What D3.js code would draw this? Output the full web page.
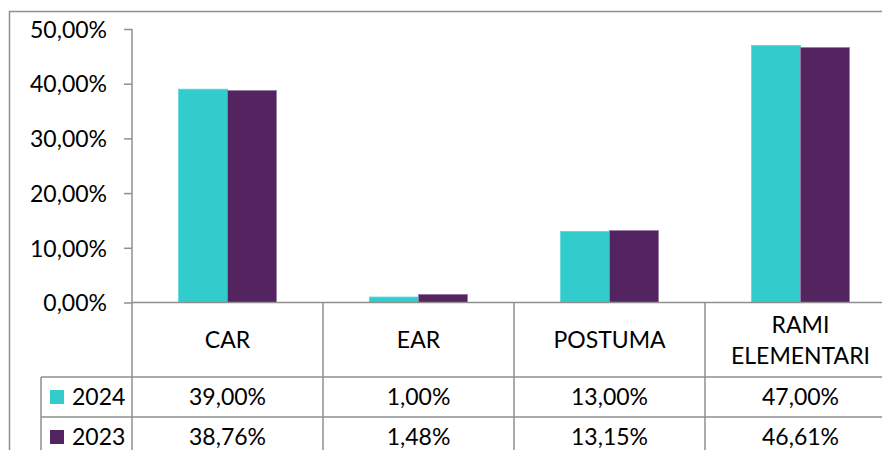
<!DOCTYPE html>
<html>
<head>
<meta charset="utf-8">
<script src="https://cdn.jsdelivr.net/npm/d3@7"></script>
<style>
  html, body { margin: 0; padding: 0; background: #fff; }
  svg { display: block; }
  text { font-family: Lato, "Open Sans", sans-serif; fill: #000; }
</style>
</head>
<body>
<svg id="chart" width="882" height="450"></svg>
<script>
// ---- data ----
const categories = ["CAR", "EAR", "POSTUMA", "RAMI ELEMENTARI"];
const categoryLines = [["CAR"], ["EAR"], ["POSTUMA"], ["RAMI", "ELEMENTARI"]];
const seriesNames = ["2024", "2023"];
const values2024 = [39.00, 1.00, 13.00, 47.00];
const values2023 = [38.76, 1.48, 13.15, 46.61];
const yTicks = [0, 10, 20, 30, 40, 50];
const seriesColors = ["#33CCCC", "#542461"];
const seriesStrokes = ["#5fd6d6", "#9a7aa6"];

const seriesValues = [values2024, values2023];
const fmt = v => d3.format(".2f")(v).replace(".", ",") + "%";

const svg = d3.select("#chart");
const gridColor = "#8f8f8f";
const FS = 23;

// layout
const plotLeft = 132, plotRight = 896, plotTop = 29, plotBottom = 302.5;
const catRowBottom = 377, rowH = 40, legendLeft = 41;

const x = d3.scaleBand().domain(categories).range([plotLeft, plotRight]);
const gap = x.bandwidth() * 0.2435;
const x1 = d3.scaleBand().domain(seriesNames).range([gap, x.bandwidth() - gap]);
const y = d3.scaleLinear().domain([0, 50]).range([plotBottom, plotTop]);

// outer border
svg.append("path")
  .attr("d", `M9.5,450 V11.5 H882`)
  .attr("fill", "none").attr("stroke", gridColor).attr("stroke-width", 1.5);

// bars
const barsG = svg.append("g");
seriesNames.forEach((s, si) => {
  barsG.selectAll(null).data(categories).enter().append("rect")
    .attr("x", d => x(d) + x1(s))
    .attr("y", (d, i) => y(seriesValues[si][i]))
    .attr("width", x1.bandwidth())
    .attr("height", (d, i) => y(0) - y(seriesValues[si][i]))
    .attr("fill", seriesColors[si])
    .attr("stroke", seriesStrokes[si])
    .attr("stroke-width", 0.8);
});

// y axis
const yAxis = d3.axisLeft(y).tickValues(yTicks).tickSize(8).tickPadding(17)
  .tickFormat(fmt);
const yg = svg.append("g").attr("transform", `translate(${plotLeft},0)`).call(yAxis);
yg.select(".domain").remove();
yg.selectAll(".tick line").attr("stroke", gridColor).attr("stroke-width", 1.5);
yg.selectAll(".tick text")
  .style("font-family", "Lato, 'Open Sans', sans-serif")
  .attr("font-size", FS).attr("dy", "0.36em").attr("fill", "#000");

// table grid
const grid = svg.append("g").attr("stroke", gridColor).attr("stroke-width", 1.5).attr("fill", "none");
// axis vertical line
grid.append("line").attr("x1", plotLeft).attr("x2", plotLeft).attr("y1", y(50)).attr("y2", 450);
// baseline
grid.append("line").attr("x1", plotLeft).attr("x2", 882).attr("y1", y(0)).attr("y2", y(0));
// row lines
[catRowBottom, catRowBottom + rowH].forEach(yy => {
  grid.append("line").attr("x1", legendLeft).attr("x2", 882).attr("y1", yy).attr("y2", yy);
});
// legend column left
grid.append("line").attr("x1", legendLeft).attr("x2", legendLeft).attr("y1", catRowBottom).attr("y2", 450);
// category separators
categories.forEach(c => {
  const xx = x(c) + x.bandwidth();
  grid.append("line").attr("x1", xx).attr("x2", xx).attr("y1", y(0)).attr("y2", 450);
});

// category labels
const catMid = (y(0) + catRowBottom) / 2;
categories.forEach((c, i) => {
  const lines = categoryLines[i];
  const t = svg.append("text")
    .attr("x", x(c) + x.bandwidth() / 2)
    .attr("text-anchor", "middle")
    .attr("font-size", FS);
  lines.forEach((ln, li) => {
    t.append("tspan")
      .attr("x", x(c) + x.bandwidth() / 2)
      .attr("y", catMid + (li - (lines.length - 1) / 2) * 31)
      .attr("dy", "0.36em")
      .text(ln);
  });
});

// data rows
seriesNames.forEach((s, si) => {
  const rowMid = catRowBottom + rowH * si + rowH / 2;
  svg.append("rect")
    .attr("x", 50).attr("y", rowMid - 7)
    .attr("width", 14).attr("height", 14)
    .attr("fill", seriesColors[si]);
  svg.append("text")
    .attr("x", 72).attr("y", rowMid).attr("dy", "0.36em")
    .attr("font-size", FS).text(s);
  categories.forEach((c, i) => {
    svg.append("text")
      .attr("x", x(c) + x.bandwidth() / 2)
      .attr("y", rowMid).attr("dy", "0.36em")
      .attr("text-anchor", "middle")
      .attr("font-size", FS)
      .text(fmt(seriesValues[si][i]));
  });
});
</script>
</body>
</html>
